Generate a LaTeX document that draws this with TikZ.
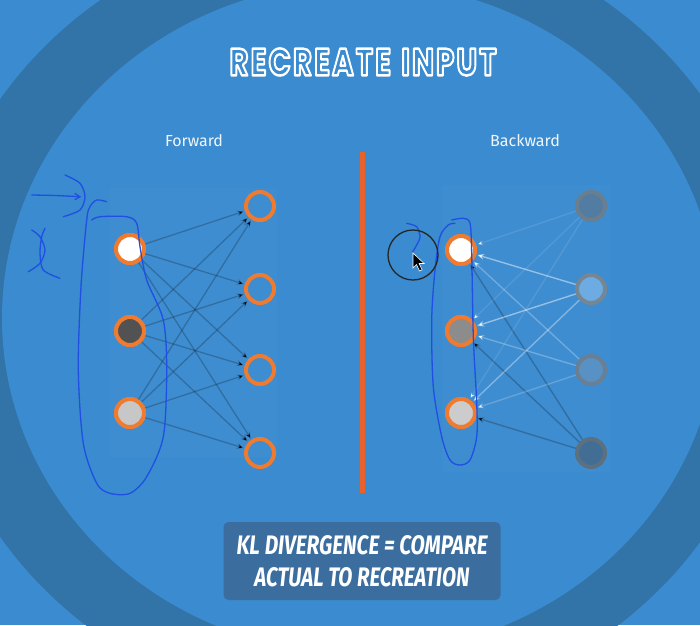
\documentclass[tikz,border=0pt]{standalone}
\usepackage{fontspec}
\setmainfont{Fira Sans}
\newfontfamily\titlefont{Poppins}[LetterSpace=7]
\newfontfamily\boxfont{Fira Sans}
\newfontfamily\labelfont{Fira Sans}
\usetikzlibrary{arrows.meta,calc}
\definecolor{bglight}{HTML}{3A8BCF}
\definecolor{ringdark}{HTML}{3273A8}
\definecolor{boxdark}{HTML}{3B6E9F}
\definecolor{orng}{HTML}{EE7B30}
\definecolor{divider}{HTML}{E8622C}
\definecolor{pen}{HTML}{1F4FE3}
\newcommand{\outlinetext}[1]{\special{pdf:literal 2 Tr 0.65 w 1 1 1 RG 1 j}#1\special{pdf:literal 0 Tr}}
\tikzset{
  neuron/.style={circle, draw=orng, line width=4pt, minimum size=28pt, inner sep=0pt},
  ghost/.style={circle, line width=4pt, minimum size=28pt, inner sep=0pt},
  fedge/.style={draw=black, draw opacity=0.22, line width=1.3pt, -{Stealth[length=7pt,width=6pt]}, shorten >=1pt},
  bedge/.style={line width=1.4pt, -{Stealth[length=7pt,width=6pt]}, shorten >=1pt},
  penline/.style={draw=pen, line width=1.3pt, line cap=round, line join=round},
  lbl/.style={text=white!92!bglight, inner sep=0pt}
}
\begin{document}
\begin{tikzpicture}[x=1pt,y=-1pt]
\useasboundingbox (0,0) rectangle (700,625);
\fill[bglight] (0,0) rectangle (700,625);
\fill[ringdark] (352,318) ellipse [x radius=422pt, y radius=396pt];
\fill[bglight] (360,318) ellipse [x radius=358pt, y radius=336pt];

% faint panels
\fill[white, fill opacity=0.025] (110,188) rectangle (277,457);
\fill[white, fill opacity=0.025] (442,185) rectangle (610,472);

% title with outline
\node[text=bglight, inner sep=0pt] (title) at (363,62) {\resizebox{267pt}{27pt}{\titlefont\bfseries\color{bglight}\outlinetext{RECREATE\hspace{0.35em}INPUT}}};

% labels
\node[lbl] (fwd) at (194,141) {\resizebox{58pt}{!}{\labelfont Forward}};
\node[lbl] (bwd) at (525,141) {\resizebox{70pt}{!}{\labelfont Backward}};

% divider
\coordinate (dtop) at (362,152);
\coordinate (dbot) at (362,493);
\draw[divider, line width=5pt] (dtop) -- (dbot);

% forward network nodes
\node[neuron, fill=white] (fl1) at (130,249) {};
\node[neuron, fill=black!68] (fl2) at (130,331) {};
\node[neuron, fill=black!22] (fl3) at (130,413) {};
\node[neuron] (fr1) at (260,206) {};
\node[neuron] (fr2) at (260,289) {};
\node[neuron] (fr3) at (260,370) {};
\node[neuron] (fr4) at (260,453) {};

\foreach \i in {1,2,3} {
  \foreach \j in {1,2,3,4} {
    \draw[fedge] (fl\i) -- (fr\j);
  }
}
% redraw nodes on top
\node[neuron, fill=white] at (fl1) {};
\node[neuron, fill=black!68] at (fl2) {};
\node[neuron, fill=black!22] at (fl3) {};

% backward network nodes
\node[neuron, fill=white] (bl1) at (461,250) {};
\node[neuron, fill=black!45] (bl2) at (461,331) {};
\node[neuron, fill=black!20] (bl3) at (461,413) {};
\node[ghost, draw={rgb,255:red,106;green,126;blue,142}, fill={rgb,255:red,82;green,124;blue,162}] (br1) at (591,206) {};
\node[ghost, draw={rgb,255:red,118;green,134;blue,146}, fill={rgb,255:red,108;green,172;blue,226}] (br2) at (591,289) {};
\node[ghost, draw={rgb,255:red,106;green,128;blue,146}, fill={rgb,255:red,88;green,146;blue,196}] (br3) at (591,370) {};
\node[ghost, draw={rgb,255:red,92;green,112;blue,128}, fill={rgb,255:red,66;green,110;blue,150}] (br4) at (591,453) {};

% backward edges
\draw[bedge, draw=white, draw opacity=0.10] (br1) -- (bl1);
\draw[bedge, draw=white, draw opacity=0.10] (br1) -- (bl2);
\draw[bedge, draw=white, draw opacity=0.10] (br1) -- (bl3);
\draw[bedge, draw=black, draw opacity=0.22] (br4) -- (bl1);
\draw[bedge, draw=black, draw opacity=0.22] (br4) -- (bl2);
\draw[bedge, draw=black, draw opacity=0.22] (br4) -- (bl3);
\draw[bedge, draw=white, draw opacity=0.26] (br3) -- (bl1);
\draw[bedge, draw=white, draw opacity=0.26] (br3) -- (bl2);
\draw[bedge, draw=white, draw opacity=0.20] (br3) -- (bl3);
\draw[bedge, draw=white, draw opacity=0.45] (br2) -- (bl1);
\draw[bedge, draw=white, draw opacity=0.45] (br2) -- (bl2);
\draw[bedge, draw=white, draw opacity=0.35] (br2) -- (bl3);
\node[neuron, fill=white] at (bl1) {};
\node[neuron, fill=black!45] at (bl2) {};
\node[neuron, fill=black!20] at (bl3) {};

% bottom box
\node[fill=boxdark, rounded corners=5pt, minimum width=277pt, minimum height=78pt, inner sep=0pt] (kl) at (362,561) {};
\node[lbl, text=white] (kl1) at (362,545) {\resizebox{251pt}{19pt}{\boxfont\bfseries\itshape KL DIVERGENCE = COMPARE}};
\node[lbl, text=white] (kl2) at (362,577) {\resizebox{215pt}{19pt}{\boxfont\bfseries\itshape ACTUAL TO RECREATION}};

% pen annotations (forward)
\draw[penline] plot[smooth] coordinates {(106.7,201.7) (96.7,200) (90,206.7) (86.7,220) (81,286.7) (78.3,370) (83.3,443.3) (96.7,483.3) (110,493.3) (130,493.3) (146.7,476.7) (163.3,436.7) (166.7,370) (163.3,320) (146.7,280) (140,246.7) (136.7,223.3) (126.7,216.7) (100,216.7) (91.7,220)};
\draw[penline] plot[smooth] coordinates {(31.7,195) (55,195.5) (80,196.7)};
\draw[penline] (80,196.7) -- (75,193.5);
\draw[penline] (80,196.7) -- (75,199.5);
\draw[penline] plot[smooth] coordinates {(65,175) (80,183.3) (85,196.7) (80,210) (63.3,216.7)};
\draw[penline] plot[smooth] coordinates {(31.7,230) (40,236.7) (45,250) (40,263.3) (28.3,271.7)};
\draw[penline] plot[smooth] coordinates {(45,228.3) (41.7,236.7) (40,253.3) (43.3,270) (60,278.3)};

% pen annotations (backward)
\draw[penline] plot[smooth] coordinates {(451.7,220) (463.3,218.3) (470,223.3) (471.7,253.3) (473.3,336.7) (476.7,403.3) (476.7,436.7) (470,460) (460,465) (450,460) (441.7,436.7) (433.3,386.7) (431.7,320) (435,270) (440,236.7) (448.3,225) (455,223.3)};
\draw[penline] plot[smooth] coordinates {(406.7,223.3) (416.7,226.7) (420,236.7) (416.7,245) (412.7,251.7)};

% cursor highlight and pointer
\node[circle, draw=black!85, line width=1.3pt, minimum size=50pt, inner sep=0pt] (cur) at (413,255) {};
\coordinate (tip) at (413,253);
\filldraw[fill=black, draw=white, line width=0.6pt] (tip) -- ++(0,15) -- ++(3.5,-3.5) -- ++(3,6.5) -- ++(2.6,-1.2) -- ++(-3,-6.3) -- ++(5,0) -- cycle;
\end{tikzpicture}
\end{document}
